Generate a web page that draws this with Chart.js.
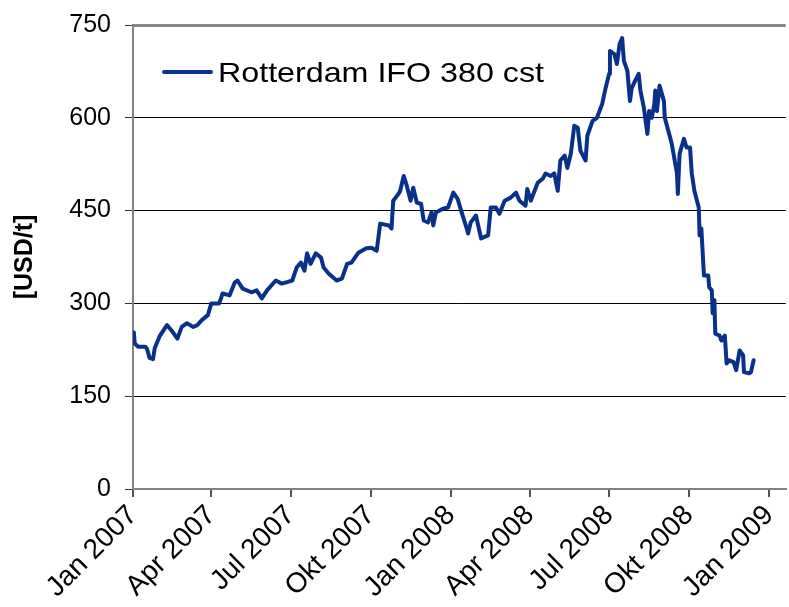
<!DOCTYPE html>
<html>
<head>
<meta charset="utf-8">
<script src="https://cdn.jsdelivr.net/npm/chart.js@4"></script>
<style>
  html, body { margin: 0; padding: 0; background: #fff; overflow: hidden; }
  #wrap { width: 789px; height: 607px; overflow: hidden; }
  #fuelChart { display: block; margin-top: -4px; }
</style>
</head>
<body>
<div id="wrap"><canvas id="fuelChart" width="795" height="611"></canvas></div>
<script>
// Tage seit 1. Jan 2007
const days = [1, 2, 6, 14, 16, 19, 23, 25, 31, 39, 45, 51, 56, 62, 69, 74, 79, 86, 90, 99,
  103, 111, 117, 120, 126, 136, 142, 148, 154, 164, 171, 176, 183, 188, 193, 197, 200, 204, 210, 216,
  219, 225, 234, 240, 246, 251, 259, 268, 274, 280, 284, 294, 297, 299, 305, 307, 311, 314, 319, 322,
  326, 331, 334, 339, 343, 345, 348, 356, 362, 368, 373, 377, 383, 385, 388, 394, 400, 408, 411, 417,
  421, 427, 434, 440, 444, 451, 453, 457, 465, 471, 474, 480, 484, 488, 491, 496, 499, 503, 507, 511,
  514, 520, 522, 528, 533, 539, 543, 547, 548, 553, 556, 559, 562, 564, 568, 571, 573, 577, 581, 583,
  587, 591, 593, 596, 599, 600, 602, 605, 610, 611, 616, 619, 621, 625, 626, 628, 633, 636, 640, 642,
  645, 650, 651, 653, 656, 661, 662, 665, 666, 668, 669, 674, 676, 680, 682, 685, 690, 693, 697, 701,
  702, 708, 710, 713];

// Rotterdam IFO 380 cst [USD/t]
const ifo380 = [253, 235, 230, 230, 227, 212, 210, 228, 248, 265, 255, 243, 262, 268, 262, 265, 273, 281, 300, 300,
  316, 313, 334, 337, 324, 318, 321, 308, 321, 337, 332, 334, 337, 358, 366, 353, 381, 364, 381, 374,
  358, 348, 337, 340, 364, 366, 382, 389, 390, 385, 429, 426, 421, 466, 477, 482, 506, 493, 466, 487,
  463, 461, 434, 431, 447, 426, 447, 453, 455, 479, 469, 450, 423, 413, 431, 442, 405, 410, 455, 455,
  445, 466, 471, 479, 466, 458, 485, 466, 495, 502, 510, 506, 510, 482, 531, 539, 519, 542, 587, 584,
  547, 531, 571, 595, 600, 622, 648, 671, 708, 703, 687, 719, 729, 692, 676, 627, 648, 660, 671, 644,
  616, 574, 611, 600, 622, 644, 611, 652, 627, 600, 574, 558, 542, 510, 477, 542, 566, 552, 552, 510,
  482, 455, 410, 421, 345, 345, 326, 321, 284, 305, 251, 248, 240, 248, 203, 208, 205, 192, 224, 216,
  189, 187, 189, 208];

const tickDays = [0, 90, 181, 273, 365, 456, 547, 639, 731];
const tickLabels = ['Jan 2007', 'Apr 2007', 'Jul 2007', 'Okt 2007', 'Jan 2008', 'Apr 2008', 'Jul 2008', 'Okt 2008', 'Jan 2009'];
const yTicks = [0, 150, 300, 450, 600, 750];
const seriesName = 'Rotterdam IFO 380 cst';

const lineColor = '#08318a';
const font = 'Liberation Sans, Arial, sans-serif';

// Legende im Diagramm oben links (Canvas ist um 4px nach oben verschoben)
const legendInside = {
  id: 'legendInside',
  afterDraw(chart) {
    const c = chart.ctx;
    c.save();
    c.strokeStyle = lineColor;
    c.lineWidth = 4;
    c.lineCap = 'round';
    c.beginPath();
    c.moveTo(164, 76);
    c.lineTo(211, 76);
    c.stroke();
    c.fillStyle = '#000';
    c.font = '28px ' + font;
    c.textBaseline = 'middle';
    const w = c.measureText(seriesName).width;
    c.translate(218, 78);
    c.scale(326 / w, 1);
    c.fillText(seriesName, 0, 0);
    c.restore();
  }
};

const ctx = document.getElementById('fuelChart').getContext('2d');
const fuelChart = new Chart(ctx, {
  type: 'line',
  data: {
    datasets: [{
      label: seriesName,
      data: days.map((d, i) => ({ x: d, y: ifo380[i] })),
      borderColor: lineColor,
      borderWidth: 4,
      pointRadius: 0,
      tension: 0,
      borderJoinStyle: 'round',
      borderCapStyle: 'round'
    }]
  },
  options: {
    responsive: false,
    animation: false,
    layout: { padding: { top: 10, right: 0, left: 0, bottom: 0 } },
    plugins: {
      legend: { display: false },
      tooltip: { enabled: false }
    },
    scales: {
      x: {
        type: 'linear',
        min: 0,
        max: 750,
        afterBuildTicks: s => { s.ticks = tickDays.map(v => ({ value: v })); },
        afterFit: s => { s.height = 118; },
        ticks: {
          autoSkip: false,
          minRotation: 45,
          maxRotation: 45,
          padding: 2,
          color: '#000',
          font: { family: font, size: 28 },
          callback: (v, i) => tickLabels[i]
        },
        grid: {
          drawOnChartArea: false,
          tickLength: 8,
          color: '#555',
          lineWidth: 2
        },
        border: { color: '#808080', width: 2 }
      },
      y: {
        min: 0,
        max: 750,
        afterBuildTicks: s => { s.ticks = yTicks.map(v => ({ value: v })); },
        afterFit: s => { s.width = 133; },
        ticks: {
          padding: 14,
          color: '#000',
          font: { family: font, size: 25 }
        },
        grid: {
          tickLength: 8,
          color: c => (c.tick && c.tick.value === 750 ? '#888' : '#000'),
          lineWidth: c => (c.tick && c.tick.value === 750 ? 3 : 1),
          tickColor: '#333',
          tickWidth: 1
        },
        border: { color: '#808080', width: 2 },
        title: {
          display: true,
          text: '[USD/t]',
          color: '#000',
          padding: { top: 10, bottom: 6 },
          font: { family: font, size: 25, weight: 'bold' }
        }
      }
    }
  },
  plugins: [legendInside]
});
</script>
</body>
</html>
